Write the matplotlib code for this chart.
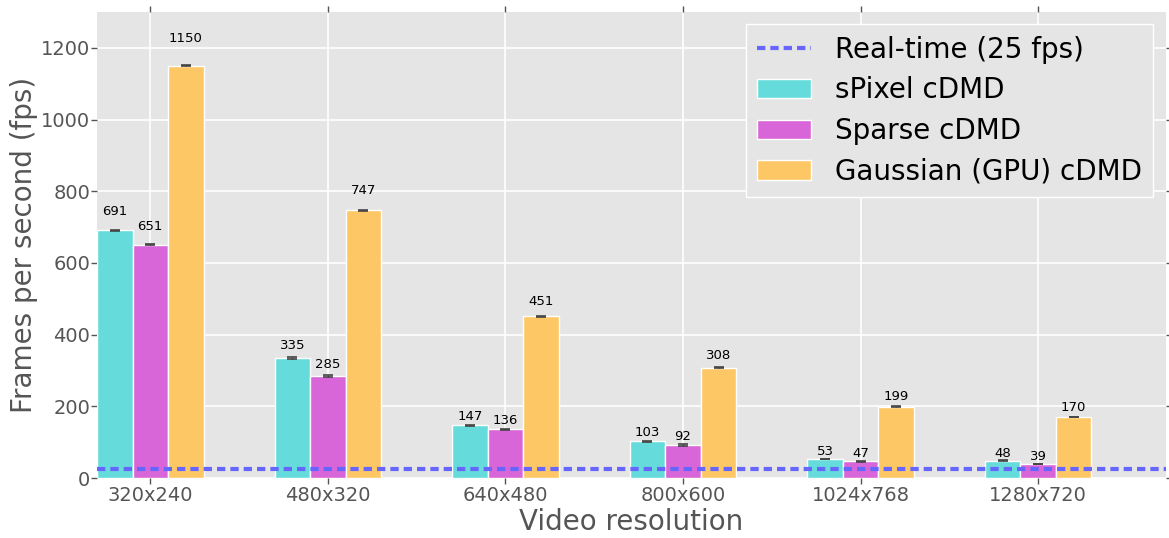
import numpy as np
import matplotlib
matplotlib.use("Agg")
import matplotlib.pyplot as plt

# Throughput per resolution for each cDMD variant
resolutions = ["320x240", "480x320", "640x480", "800x600", "1024x768", "1280x720"]
spixel_fps = [691, 335, 147, 103, 53, 48]
sparse_fps = [651, 285, 136, 92, 47, 39]
gaussian_fps = [1150, 747, 451, 308, 199, 170]
spixel_err = [2, 2, 1.5, 1.5, 1, 1]
sparse_err = [2, 2, 1.5, 1.5, 1, 1]
gaussian_err = [2, 2, 1.5, 1.5, 1, 1]
realtime_fps = 25

series = [
    ("sPixel cDMD", spixel_fps, spixel_err, "#66DBDB"),
    ("Sparse cDMD", sparse_fps, sparse_err, "#D866D8"),
    ("Gaussian (GPU) cDMD", gaussian_fps, gaussian_err, "#FEC766"),
]

fig = plt.figure(figsize=(11.69, 5.38), dpi=100)
ax = fig.add_axes([0.083, 0.1115, 0.9144, 0.8662])
ax.set_facecolor("#E5E5E5")
for s in ax.spines.values():
    s.set_visible(False)
ax.grid(True, color="white", linewidth=1.2)
ax.set_axisbelow(True)

ind = np.arange(len(resolutions))
width = 0.2

ax.axhline(realtime_fps, color="#6666FF", linewidth=3, linestyle=(0, (2, 1.2)),
           label="Real-time (25 fps)", zorder=4)

for k, (name, vals, err, col) in enumerate(series):
    pos = ind + (k - 1) * width
    rects = ax.bar(pos, vals, width, color=col, edgecolor="white", linewidth=1,
                   label=name, zorder=2)
    ax.errorbar(pos, vals, yerr=err, fmt="none", ecolor="#444444",
                elinewidth=1, capsize=3.5, capthick=1.2, zorder=3)
    # value labels above each bar
    for r in rects:
        h = r.get_height()
        ax.text(r.get_x() + r.get_width() / 2., 1.05 * h, "%d" % int(h),
                ha="center", va="bottom", fontsize=9.5, color="black")

ax.set_xlim(-0.3, 5.72)
ax.set_ylim(0, 1300)
ax.set_xticks(ind)
ax.set_xticklabels(resolutions)
ax.set_yticks(np.arange(0, 1201, 200))
ax.tick_params(axis="both", direction="out", length=4, width=1, color="#555555",
               labelcolor="#555555", labelsize=14, top=True, right=True)
ax.tick_params(axis="y", pad=1)
ax.tick_params(axis="x", pad=2)
ax.set_xlabel("Video resolution", fontsize=20, color="#555555", labelpad=2)
ax.set_ylabel("Frames per second (fps)", fontsize=20, color="#555555", labelpad=2)

leg = ax.legend(loc="upper right", fontsize=20, facecolor="#E5E5E5",
                edgecolor="white", framealpha=1, fancybox=False,
                borderaxespad=0.45, handlelength=1.95, labelspacing=0.46,
                handletextpad=0.86)
leg.get_frame().set_linewidth(1)

fig.savefig("out.png", dpi=100)
